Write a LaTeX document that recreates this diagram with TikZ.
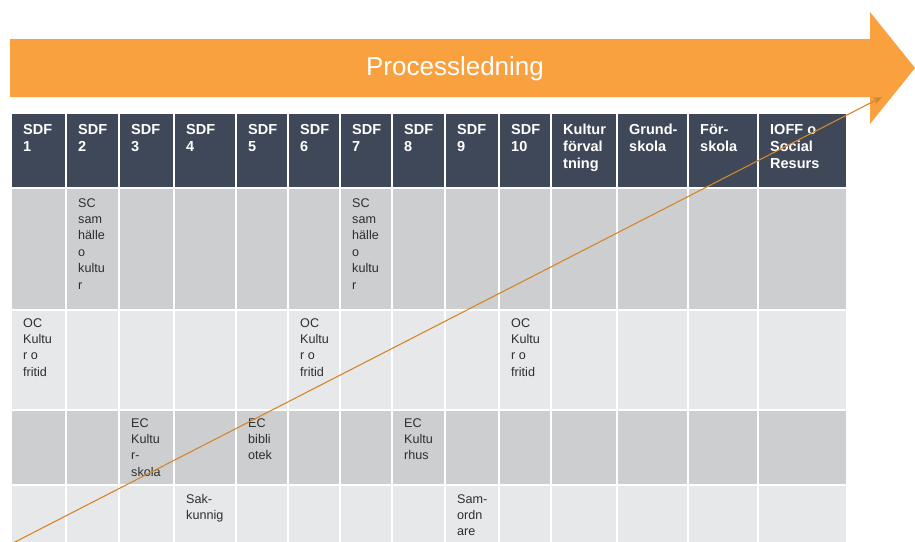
\documentclass[tikz,border=0pt]{standalone}
\usepackage{fontspec}
\setmainfont{Liberation Sans}
\usetikzlibrary{arrows.meta}

\definecolor{arroworange}{HTML}{F9A03F}
\definecolor{lineorange}{HTML}{D4862C}
\definecolor{headslate}{HTML}{3E4859}
\definecolor{rowdark}{HTML}{CDCED0}
\definecolor{rowlight}{HTML}{E7E8E9}
\definecolor{textgray}{HTML}{2E2E2E}

\begin{document}
\begin{tikzpicture}[
        x=1pt, y=-1pt,
        header/.style={fill=headslate},
        darkrow/.style={fill=rowdark},
        lightrow/.style={fill=rowlight},
        headtext/.style={anchor=north west, inner sep=0pt, align=left, text=white, font=\fontsize{14.5}{17}\selectfont\bfseries},
        celltext/.style={anchor=north west, inner sep=0pt, align=left, text=textgray, font=\fontsize{12.6}{16.4}\selectfont},
        title/.style={text=white, font=\fontsize{26}{30}\selectfont},
        trend/.style={draw=lineorange, line width=1.1pt, -{Stealth[length=9pt,width=7pt]}}
    ]
        \useasboundingbox (0,0) rectangle (915,541);

        % Process arrow
        \fill[arroworange] (10,39) -- (870,39) -- (870,12) -- (915,68) -- (870,124) -- (870,97) -- (10,97) -- cycle;
        \node[title] (title) at (455,69) {Processledning};

        % Table cells and header texts
        \foreach \l/\r/\txt [count=\i] in {
                12/67/{SDF\\1}, 67/120/{SDF\\2}, 120/175/{SDF\\3}, 175/237/{SDF\\4},
                237/289/{SDF\\5}, 289/341/{SDF\\6}, 341/393/{SDF\\7}, 393/446/{SDF\\8},
                446/500/{SDF\\9}, 500/552/{SDF\\10}, 552/618/{Kultur\\förval\\tning},
                618/689/{Grund-\\skola}, 689/759/{För-\\skola}, 759/848/{IOFF o\\Social\\Resurs}} {
            \fill[header] (\l,114) rectangle ({\r-2},187);
            \fill[darkrow] (\l,189) rectangle ({\r-2},309);
            \fill[lightrow] (\l,311) rectangle ({\r-2},409);
            \fill[darkrow] (\l,411) rectangle ({\r-2},484);
            \fill[lightrow] (\l,486) rectangle ({\r-2},545);
            \node[headtext] (h\i) at ({\l+11},124) {\txt};
        }

        % Row 1
        \node[celltext] (sc2) at (78,198) {SC\\sam\\hälle\\o\\kultu\\r};
        \node[celltext] (sc7) at (352,198) {SC\\sam\\hälle\\o\\kultu\\r};

        % Row 2
        \node[celltext] (oc1) at (23,318) {OC\\Kultu\\r o\\fritid};
        \node[celltext] (oc6) at (300,318) {OC\\Kultu\\r o\\fritid};
        \node[celltext] (oc10) at (511,318) {OC\\Kultu\\r o\\fritid};

        % Row 3
        \node[celltext] (ec3) at (131,418) {EC\\Kultu\\r-\\skola};
        \node[celltext] (ec5) at (248,418) {EC\\bibli\\otek};
        \node[celltext] (ec8) at (404,418) {EC\\Kultu\\rhus};

        % Row 4
        \node[celltext] (sak4) at (186,494) {Sak-\\kunnig};
        \node[celltext] (sam9) at (457,494) {Sam-\\ordn\\are};

        % Trend line
        \coordinate (trendstart) at (13,543);
        \coordinate (trendend) at (882,97);
        \draw[trend] (trendstart) -- (trendend);
    \end{tikzpicture}
\end{document}
